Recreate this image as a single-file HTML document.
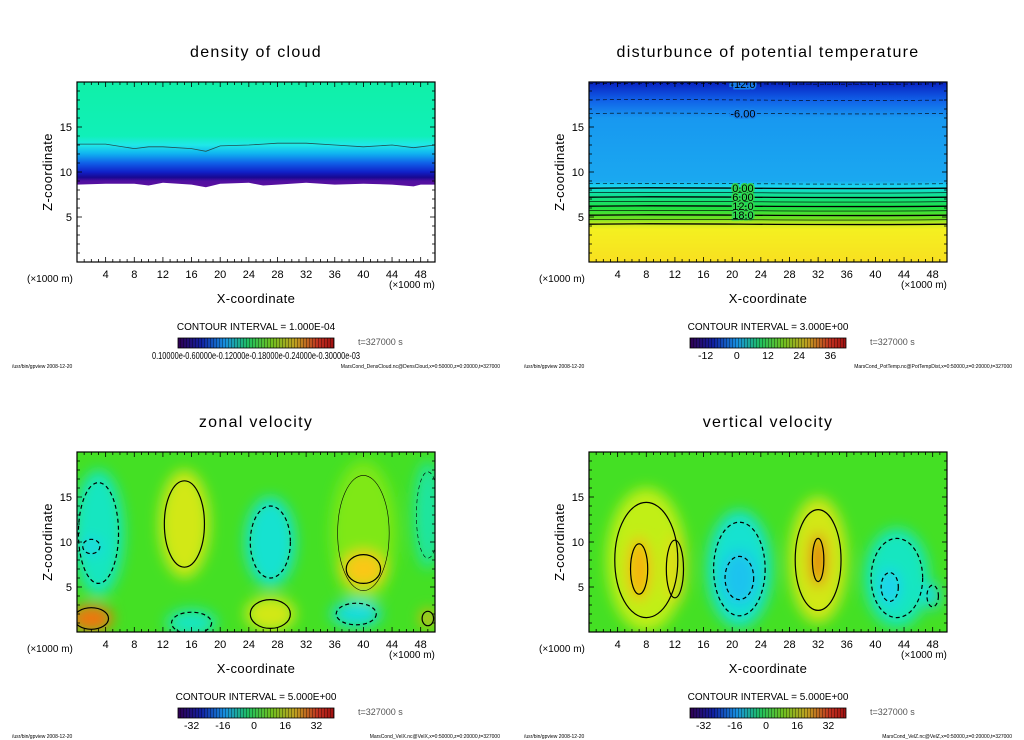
<!DOCTYPE html>
<html><head><meta charset="utf-8"><style>
html,body{margin:0;padding:0;background:#fff;width:1024px;height:740px;overflow:hidden}
svg{display:block;font-family:"Liberation Sans",sans-serif}
</style></head><body>
<svg id="s" width="1024" height="740" viewBox="0 0 1024 740">
<defs>
<filter id="blur6" x="-50%" y="-50%" width="200%" height="200%"><feGaussianBlur stdDeviation="7"/></filter>
<linearGradient id="gCloud" gradientUnits="userSpaceOnUse" x1="0" y1="82" x2="0" y2="262">
<stop offset="0" stop-color="#10f0a8"/><stop offset="0.3" stop-color="#10f0b8"/><stop offset="0.35" stop-color="#20e8e8"/>
<stop offset="0.4" stop-color="#10b0f0"/><stop offset="0.45" stop-color="#1060e8"/><stop offset="0.5" stop-color="#1020c8"/><stop offset="0.53" stop-color="#180890"/><stop offset="0.55" stop-color="#5010a0"/><stop offset="0.6" stop-color="#6010a0"/>
</linearGradient>
<linearGradient id="gTemp" gradientUnits="userSpaceOnUse" x1="0" y1="82" x2="0" y2="262">
<stop offset="0" stop-color="#0820c0"/><stop offset="0.1" stop-color="#1060e8"/><stop offset="0.2" stop-color="#1898f0"/>
<stop offset="0.55" stop-color="#1aa8f0"/><stop offset="0.58" stop-color="#18d8f0"/><stop offset="0.62" stop-color="#10e0a0"/>
<stop offset="0.7" stop-color="#20e040"/><stop offset="0.76" stop-color="#70e020"/><stop offset="0.79" stop-color="#d0ec20"/><stop offset="0.82" stop-color="#f4f020"/><stop offset="1" stop-color="#f8e020"/>
</linearGradient>
<linearGradient id="gBar" x1="0" y1="0" x2="1" y2="0">
<stop offset="0" stop-color="#300050"/><stop offset="0.15" stop-color="#1020a0"/><stop offset="0.3" stop-color="#1890e0"/>
<stop offset="0.45" stop-color="#20c060"/><stop offset="0.6" stop-color="#70c020"/><stop offset="0.75" stop-color="#c0a020"/><stop offset="0.9" stop-color="#c03020"/><stop offset="1" stop-color="#a01010"/>
</linearGradient>
<pattern id="pBar" width="3" height="10" patternUnits="userSpaceOnUse"><rect width="1" height="10" fill="rgba(0,0,0,0.35)"/></pattern>
<clipPath id="c1"><rect x="77" y="82" width="358" height="180"/></clipPath>
<clipPath id="c2"><rect x="589" y="82" width="358" height="180"/></clipPath>
<clipPath id="c3"><rect x="77" y="452" width="358" height="180"/></clipPath>
<clipPath id="c4"><rect x="589" y="452" width="358" height="180"/></clipPath>
</defs>
</svg>
<script>
// ----- data -----
const xTicks = [4,8,12,16,20,24,28,32,36,40,44,48];
const zTicks = [5,10,15];
const titles = ["density of cloud","disturbunce of potential temperature","zonal velocity","vertical velocity"];
const intervals = ["CONTOUR INTERVAL = 1.000E-04","CONTOUR INTERVAL = 3.000E+00","CONTOUR INTERVAL = 5.000E+00","CONTOUR INTERVAL = 5.000E+00"];
const barLabels = [["0.10000e-0.60000e-0.12000e-0.18000e-0.24000e-0.30000e-03"],["-12","0","12","24","36"],["-32","-16","0","16","32"],["-32","-16","0","16","32"]];
const barValues = [[0.1],[-12,0,12,24,36],[-32,-16,0,16,32],[-32,-16,0,16,32]];
const barRanges = [[0.1,3.0],[-18,42],[-39,41],[-39,41]];
const files = ["MarsCond_DensCloud.nc@DensCloud,x=0:50000,z=0:20000,t=327000","MarsCond_PotTemp.nc@PotTempDist,x=0:50000,z=0:20000,t=327000","MarsCond_VelX.nc@VelX,x=0:50000,z=0:20000,t=327000","MarsCond_VelZ.nc@VelZ,x=0:50000,z=0:20000,t=327000"];
const cloudX = [0,4,8,10,12,16,18,20,24,26,28,32,36,40,44,47,48,50];
const cloudBase = [8.6,8.7,8.7,8.5,8.8,8.6,8.3,8.7,8.8,8.5,8.6,8.8,8.6,8.7,8.6,8.4,8.6,8.6];
const cloudTop = [13.1,13.1,12.6,12.8,12.8,12.6,12.3,12.9,13.0,13.1,13.2,13.2,13.0,12.8,13.0,12.7,12.8,13.0];
const tempLevels = [19.8,18.0,16.5,8.7,8.2,7.7,7.2,6.7,6.2,5.7,5.2,4.7,4.2];
const tempDashed = [1,1,1,1,0,0,0,0,0,0,0,0,0];
const tempLabels = ["-12.0","","-6.00","","0.00","","6.00","","12.0","","18.0","",""];
// zonal velocity blobs [x km, z km, value, width km, height km]
const uBlobs = [[3,11,-10,7,14],[2,9.5,-16,3,2],[15,12,12,7,12],[27,10,-12,7,10],[40,11,5,9,16],[40,7,18,6,4],[49,13,-8,4,12],
  [2,1.5,25,6,3],[16,1,-10,7,3],[27,2,12,7,4],[39,2,-14,7,3],[49,1.5,20,2,2]];
// vertical velocity blobs
const wBlobs = [[8,8,10,11,16],[7,7,20,3,7],[12,7,14,3,8],[21,7,-12,9,13],[21,6,-20,5,6],[32,8,12,8,14],[32,8,26,2,6],[43,6,-10,9,11],[42,5,-18,3,4],[48,4,-16,2,3]];

const S = document.getElementById('s');
const NS = 'http://www.w3.org/2000/svg';
function mk(tag, attrs, parent){const e=document.createElementNS(NS,tag);for(const k in attrs)e.setAttribute(k,attrs[k]);(parent||S).appendChild(e);return e;}
function txt(x,y,s,size,anchor,parent,extra){const e=mk('text',Object.assign({x:x,y:y,'font-size':size,'text-anchor':anchor||'start',fill:'#000'},extra||{}),parent);e.textContent=s;return e;}
const panels = [[0,0],[512,0],[0,370],[512,370]];
function sx(p,x){return panels[p][0]+77+x*358/50;}
function sz(p,z){return panels[p][1]+262-z*180/20;}
function col(v){
  const t=Math.max(-1,Math.min(1,v/30));
  if(t>=0){const stops=[[0,[60,225,30]],[0.35,[200,240,20]],[0.6,[250,200,20]],[0.85,[240,110,10]],[1,[160,20,10]]];return interp(stops,t);}
  const stops=[[0,[60,225,30]],[0.35,[20,230,200]],[0.6,[30,210,240]],[1,[30,120,230]]];return interp(stops,-t);
}
function interp(st,t){for(let i=1;i<st.length;i++){if(t<=st[i][0]){const a=st[i-1],b=st[i],f=(t-a[0])/(b[0]-a[0]);return 'rgb('+a[1].map((c,j)=>Math.round(c+(b[1][j]-c)*f)).join(',')+')';}}const l=st[st.length-1][1];return 'rgb('+l.join(',')+')';}

for(let p=0;p<4;p++){
  const ox=panels[p][0], oy=panels[p][1];
  const g=mk('g',{});
  
  
  const pl=mk('g',{'clip-path':'url(#c'+(p+1)+')'},g);
  
  
  if(p===0){
    let d='M'+sx(0,0)+','+sz(0,20);
    d+=' L'+sx(0,50)+','+sz(0,20);
    for(let i=cloudX.length-1;i>=0;i--) d+=' L'+sx(0,cloudX[i])+','+sz(0,cloudBase[i]);
    d+='Z';
    const f=mk('path',{d:d,fill:'url(#gCloud)'},pl);
    
    
    const top=mk('polyline',{points:cloudX.map((x,i)=>sx(0,x)+','+sz(0,cloudTop[i])).join(' '),fill:'none',stroke:'#205050','stroke-width':0.8},pl);
    
    
  } else if(p===1){
    const f=mk('rect',{x:sx(1,0),y:sz(1,20),width:358,height:180,fill:'url(#gTemp)'},pl);
    
    
    tempLevels.forEach((z,i)=>{
      const y=sz(1,z);
      const a={d:'M'+sx(1,0)+','+y+' C'+sx(1,12)+','+(y-1.5)+' '+sx(1,30)+','+(y+1.5)+' '+sx(1,50)+','+y,fill:'none',stroke:'#000','stroke-width':(i>=4&&i%2===0)?1.3:0.6};
      if(tempDashed[i])a['stroke-dasharray']='4,3';
      const l=mk('path',a,pl);
      
      
      if(tempLabels[i]){
        const t=txt(sx(1,21.5),y+4,tempLabels[i],11,'middle',pl,{stroke:i<3?'#1880ec':'#30d850','stroke-width':3,'paint-order':'stroke'});
        
        
      }
    });
  } else {
    const bl=p===2?uBlobs:wBlobs;
    const bg=mk('rect',{x:sx(p,0),y:sz(p,20),width:358,height:180,fill:'#44e024'},pl);
    
    
    const fg=mk('g',{filter:'url(#blur6)'},pl);
    bl.forEach(b=>{
      const e=mk('ellipse',{cx:sx(p,b[0]),cy:sz(p,b[1]),rx:b[3]*358/100,ry:b[4]*180/40,fill:col(b[2])},fg);
      
      
    });
    bl.forEach(b=>{
      const c=mk('ellipse',{cx:sx(p,b[0]),cy:sz(p,b[1]),rx:b[3]*358/100*0.8,ry:b[4]*180/40*0.8,fill:'none',stroke:'#000','stroke-width':Math.abs(b[2])>=10?1.2:0.6,'stroke-dasharray':b[2]<0?'4,3':'none'},pl);
      
      
    });
  }
  const fr=mk('rect',{x:ox+77,y:oy+82,width:358,height:180,fill:'none',stroke:'#000','stroke-width':1.2},g);
  
  
  for(let x=1;x<50;x++){
    const L=x%4===0?5:3;
    mk('line',{x1:sx(p,x),x2:sx(p,x),y1:oy+262,y2:oy+262-L,stroke:'#000','stroke-width':0.8},g);
    mk('line',{x1:sx(p,x),x2:sx(p,x),y1:oy+82,y2:oy+82+L,stroke:'#000','stroke-width':0.8},g);
  }
  for(let z=1;z<20;z++){
    const L=z%5===0?5:3;
    mk('line',{x1:ox+77,x2:ox+77+L,y1:sz(p,z),y2:sz(p,z),stroke:'#000','stroke-width':0.8},g);
    mk('line',{x1:ox+435,x2:ox+435-L,y1:sz(p,z),y2:sz(p,z),stroke:'#000','stroke-width':0.8},g);
  }
  xTicks.forEach(v=>{const t=txt(sx(p,v),oy+278,String(v),11,'middle',g);});
  zTicks.forEach(v=>{const t=txt(ox+72,sz(p,v)+4,String(v),11,'end',g);});
  const ti=txt(ox+256,oy+57,titles[p],16,'middle',g,{'letter-spacing':'1.3'});
  
  
  const xl=txt(ox+256,oy+303,'X-coordinate',13,'middle',g,{'letter-spacing':'0.4'});
  
  
  const zl=txt(ox+52,oy+172,'Z-coordinate',13,'middle',g,{'letter-spacing':'0.4',transform:'rotate(-90 '+(ox+52)+' '+(oy+172)+')'});
  
  
  txt(ox+27,oy+282,'(×1000 m)',10,'start',g);
  txt(ox+389,oy+288,'(×1000 m)',10,'start',g);
  const ci=txt(ox+256,oy+330,intervals[p],10,'middle',g);
  
  
  const cb=mk('rect',{x:ox+178,y:oy+338,width:156,height:10,fill:'url(#gBar)',stroke:'#000','stroke-width':0.8},g);
  
  
  mk('rect',{x:ox+178,y:oy+338,width:156,height:10,fill:'url(#pBar)'},g);
  txt(ox+358,oy+345,'t=327000 s',9,'start',g,{fill:'#555'});
  const rg=barRanges[p];
  if(p===0){
    txt(ox+152,oy+359,barLabels[0][0],10.5,'start',g,{textLength:208,lengthAdjust:'spacingAndGlyphs'});
  } else {
    barValues[p].forEach((v,i)=>{const t=txt(ox+178+(v-rg[0])/(rg[1]-rg[0])*156,oy+359,barLabels[p][i],10.5,'middle',g);});
  }
  txt(ox+12,oy+368,'/usr/bin/gpview   2008-12-20',5,'start',g);
  txt(ox+500,oy+368,files[p],5,'end',g);
}
</script>
</body></html>
